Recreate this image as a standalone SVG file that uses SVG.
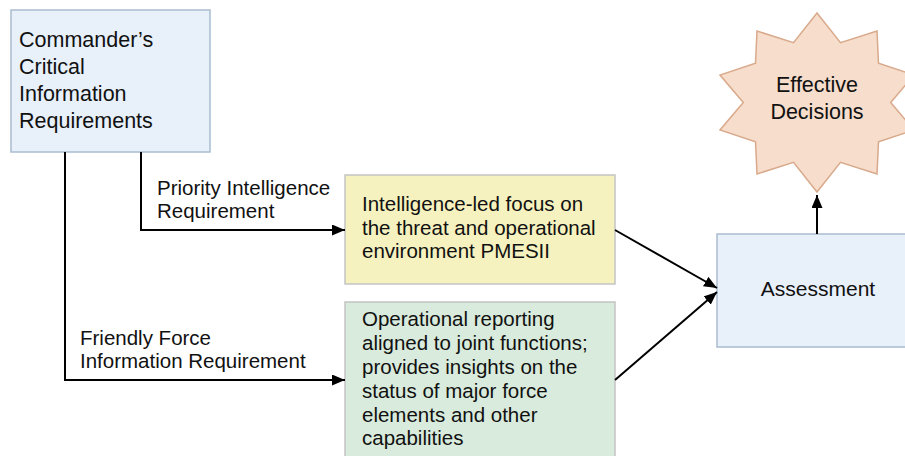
<svg xmlns="http://www.w3.org/2000/svg" width="905" height="456" viewBox="0 0 905 456">
<style>
text{font-family:"Liberation Sans",Arial,sans-serif;font-size:20.5px;fill:#111}
.big{font-size:21.5px}
.conn{fill:none;stroke:#000;stroke-width:2}
.blue{fill:#e8f0fa;stroke:#a9bccf;stroke-width:1.5}
</style>
<defs>
<marker id="ah" viewBox="0 0 13 11" refX="13" refY="5.5" markerWidth="13" markerHeight="11" markerUnits="userSpaceOnUse" orient="auto">
<path d="M0,0 L13,5.5 L0,11 Z" fill="#000"/>
</marker>
</defs>
<rect width="905" height="456" fill="#fff"/>
<g id="ccir">
<rect class="blue" x="11" y="10" width="199" height="142"/>
<text class="big" x="19" y="47">Commander’s</text>
<text class="big" x="19" y="74">Critical</text>
<text class="big" x="19" y="101">Information</text>
<text class="big" x="19" y="128">Requirements</text>
</g>
<g id="intel">
<rect x="345" y="175" width="270" height="109" fill="#f6f2bf" stroke="#c4c4c4" stroke-width="1.5"/>
<text x="362" y="211">Intelligence-led focus on</text>
<text x="362" y="234.5">the threat and operational</text>
<text x="362" y="258">environment PMESII</text>
</g>
<g id="ops">
<rect x="345" y="302" width="270" height="160" fill="#d9ebdc" stroke="#c4c4c4" stroke-width="1.5"/>
<text x="362" y="326">Operational reporting</text>
<text x="362" y="349.5">aligned to joint functions;</text>
<text x="362" y="373.5">provides insights on the</text>
<text x="362" y="397.5">status of major force</text>
<text x="362" y="421.5">elements and other</text>
<text x="362" y="445">capabilities</text>
</g>
<g id="assessment">
<rect class="blue" x="717" y="234" width="195" height="113"/>
<text x="818" y="296" text-anchor="middle" style="font-size:21px">Assessment</text>
</g>
<g id="decisions">
<polygon fill="#f6ddcc" stroke="#d9a98b" stroke-width="1.5" points="817,13 840.5,42.7 877,31 878.5,63.3 914,75 890.7,102.5 914,130 878.5,141.7 877,174 840.5,162.3 817,192 793.5,162.3 757,174 755.5,141.7 720,130 743.3,102.5 720,75 755.5,63.3 757,31 793.5,42.7"/>
<text class="big" x="817" y="92" text-anchor="middle">Effective</text>
<text class="big" x="817" y="119" text-anchor="middle">Decisions</text>
</g>
<g id="labels">
<text x="157" y="195">Priority Intelligence</text>
<text x="157" y="218">Requirement</text>
<text x="80" y="345">Friendly Force</text>
<text x="80" y="368">Information Requirement</text>
</g>
<g id="connectors">
<path class="conn" d="M141,152 V230 H345" marker-end="url(#ah)"/>
<path class="conn" d="M65,152 V380 H345" marker-end="url(#ah)"/>
<path class="conn" d="M615,230 L717,288" marker-end="url(#ah)"/>
<path class="conn" d="M615,380 L717,292" marker-end="url(#ah)"/>
<path class="conn" d="M817,234 V195" marker-end="url(#ah)"/>
</g>
</svg>
